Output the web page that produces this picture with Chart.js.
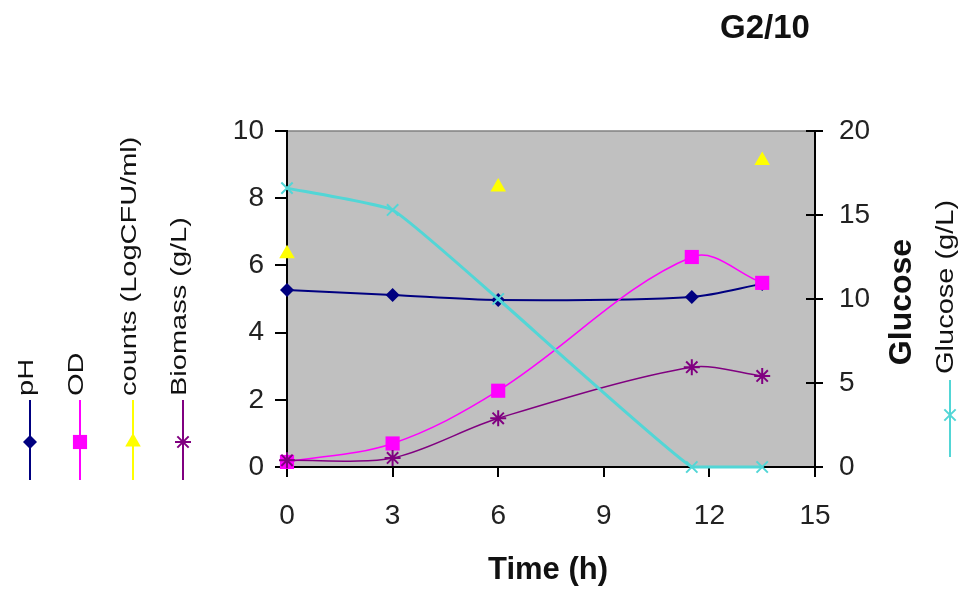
<!DOCTYPE html>
<html>
<head>
<meta charset="utf-8">
<script src="https://cdn.jsdelivr.net/npm/chart.js@4/dist/chart.umd.js"></script>
<style>
	html, body { margin: 0; padding: 0; background: #fff; }
	canvas { display: block; }
</style>
</head>
<body>
<canvas id="chart1" width="965" height="589"></canvas>
<script>
// data
const TIME = [0, 3, 6, 11.5, 13.5];
const PH = [5.27, 5.12, 4.97, 5.06, 5.45];
const OD = [0.15, 0.7, 2.27, 6.25, 5.48];
const COUNTS = [6.35, null, 8.33, null, 9.12];
const BIOMASS = [0.2, 0.27, 1.45, 2.97, 2.71];
const GLUCOSE = [16.6, 15.3, 10.0, 0, 0];

const X_TICKS = [0, 3, 6, 9, 12, 15];
const Y_TICKS = [0, 2, 4, 6, 8, 10];
const Y2_TICKS = [0, 5, 10, 15, 20];

const TITLE = 'G2/10';
const X_TITLE = 'Time (h)';
const Y2_TITLE = 'Glucose';

const FONT = '"Liberation Sans", Arial, sans-serif';

const pts = (ys) => TIME.map((t, i) => ({ x: t, y: ys[i] })).filter((p) => p.y !== null);

const series = [
	{ label: 'pH', data: PH, color: '#000080', style: 'rectRot', radius: 7, width: 2, axis: 'y', line: true, tension: 0.3, order: 4 },
	{ label: 'OD', data: OD, color: '#ff00ff', style: 'rect', radius: 10, width: 1.5, axis: 'y', line: true, tension: 0.35, order: 3 },
	{ label: 'counts (LogCFU/ml)', data: COUNTS, color: '#ffff00', style: 'triangle', radius: 9, width: 1.5, axis: 'y', line: false, tension: 0, order: 2 },
	{ label: 'Biomass (g/L)', data: BIOMASS, color: '#800080', style: 'star', radius: 8, width: 1.5, axis: 'y', line: true, tension: 0.3, order: 1 },
	{ label: 'Glucose (g/L)', data: GLUCOSE, color: '#52d6d6', style: 'crossRot', radius: 8, width: 3, axis: 'y2', line: true, tension: 0.12, order: 0 },
];

const markerOpts = (s) => ({
	pointStyle: s.style,
	radius: s.radius,
	rotation: 0,
	borderWidth: s.style === 'star' || s.style === 'crossRot' ? 2 : 0,
});

function drawMarker(ctx, s, x, y) {
	ctx.save();
	ctx.fillStyle = s.color;
	ctx.strokeStyle = s.color;
	ctx.lineWidth = markerOpts(s).borderWidth || 1;
	Chart.helpers.drawPoint(ctx, markerOpts(s), x, y);
	ctx.restore();
}

function rotText(ctx, text, x, y, font, align, sx) {
	ctx.save();
	ctx.translate(x, y);
	ctx.scale(sx, 1);
	ctx.rotate(-Math.PI / 2);
	ctx.font = font;
	ctx.fillStyle = '#111';
	ctx.textAlign = align;
	ctx.textBaseline = 'middle';
	ctx.fillText(text, 0, 0);
	ctx.restore();
}

const decor = {
	id: 'decor',
	beforeDraw(chart) {
		const { ctx, chartArea: a } = chart;
		ctx.save();
		ctx.fillStyle = '#c0c0c0';
		ctx.fillRect(a.left, a.top, a.right - a.left, a.bottom - a.top);
		ctx.strokeStyle = '#808080';
		ctx.lineWidth = 1.5;
		ctx.beginPath();
		ctx.moveTo(a.left, a.top);
		ctx.lineTo(a.right, a.top);
		ctx.stroke();
		ctx.restore();
	},
	afterDraw(chart) {
		const { ctx, chartArea: a } = chart;
		// inner half of the right axis ticks
		const y2 = chart.scales.y2;
		ctx.save();
		ctx.strokeStyle = '#000';
		ctx.lineWidth = 2;
		Y2_TICKS.forEach((v) => {
			const py = y2.getPixelForValue(v);
			ctx.beginPath();
			ctx.moveTo(a.right - 9, py);
			ctx.lineTo(a.right, py);
			ctx.stroke();
		});
		ctx.restore();

		// titles
		ctx.save();
		ctx.fillStyle = '#111';
		ctx.textAlign = 'center';
		ctx.textBaseline = 'middle';
		ctx.font = 'bold 33px ' + FONT;
		ctx.fillText(TITLE, 765, 29);
		ctx.font = 'bold 31px ' + FONT;
		ctx.fillText(X_TITLE, 548, 570);
		ctx.restore();
		rotText(ctx, Y2_TITLE, 902, 302, 'bold 32px ' + FONT, 'center', 1);

		// left legend, one rotated column per series
		const cols = [30, 80, 133, 183];
		series.slice(0, 4).forEach((s, i) => {
			const x = cols[i];
			ctx.save();
			ctx.strokeStyle = s.color;
			ctx.lineWidth = 2;
			ctx.beginPath();
			ctx.moveTo(x, 400);
			ctx.lineTo(x, 480);
			ctx.stroke();
			ctx.restore();
			drawMarker(ctx, s, x, 442);
			rotText(ctx, s.label, x - 3, 396, '29px ' + FONT, 'left', 0.78);
		});

		// right legend
		const g = series[4];
		ctx.save();
		ctx.strokeStyle = g.color;
		ctx.lineWidth = 2;
		ctx.beginPath();
		ctx.moveTo(950, 380);
		ctx.lineTo(950, 457);
		ctx.stroke();
		ctx.restore();
		drawMarker(ctx, g, 950, 415);
		rotText(ctx, g.label, 946, 374, '29px ' + FONT, 'left', 0.85);
	},
};

const axisCommon = (ticks) => ({
	type: 'linear',
	min: ticks[0],
	max: ticks[ticks.length - 1],
	afterBuildTicks: (scale) => {
		scale.ticks = ticks.map((v) => ({ value: v }));
	},
	border: { color: '#000', width: 2 },
	grid: { drawOnChartArea: false, color: '#000', lineWidth: 2, tickLength: 12 },
	ticks: { color: '#222', font: { family: FONT, size: 28 } },
});

document.addEventListener('DOMContentLoaded', () => {
	const x = axisCommon(X_TICKS);
	x.position = 'bottom';
	x.grid.tickLength = 10;
	x.ticks.padding = 22;
	x.afterFit = (scale) => { scale.height = 60; };

	const y = axisCommon(Y_TICKS);
	y.position = 'left';
	y.ticks.padding = 11;
	y.afterFit = (scale) => { scale.width = 87; };

	const y2 = axisCommon(Y2_TICKS);
	y2.position = 'right';
	y2.grid.tickLength = 8;
	y2.ticks.padding = 16;
	y2.afterFit = (scale) => { scale.width = 70; };

	new Chart(document.getElementById('chart1'), {
		type: 'line',
		data: {
			datasets: series.map((s) => ({
				label: s.label,
				data: pts(s.data),
				yAxisID: s.axis,
				order: s.order,
				showLine: s.line,
				borderColor: s.color,
				backgroundColor: s.color,
				borderWidth: s.width,
				tension: s.tension,
				pointStyle: s.style,
				pointRadius: s.radius,
				pointBorderWidth: markerOpts(s).borderWidth,
				pointBackgroundColor: s.color,
				pointBorderColor: s.color,
				clip: 12,
			})),
		},
		options: {
			responsive: false,
			animation: false,
			devicePixelRatio: 1,
			layout: { padding: { left: 200, right: 80, top: 131, bottom: 62 } },
			plugins: { legend: { display: false }, tooltip: { enabled: false } },
			scales: { x, y, y2 },
		},
		plugins: [decor],
	});
});
</script>
</body>
</html>
